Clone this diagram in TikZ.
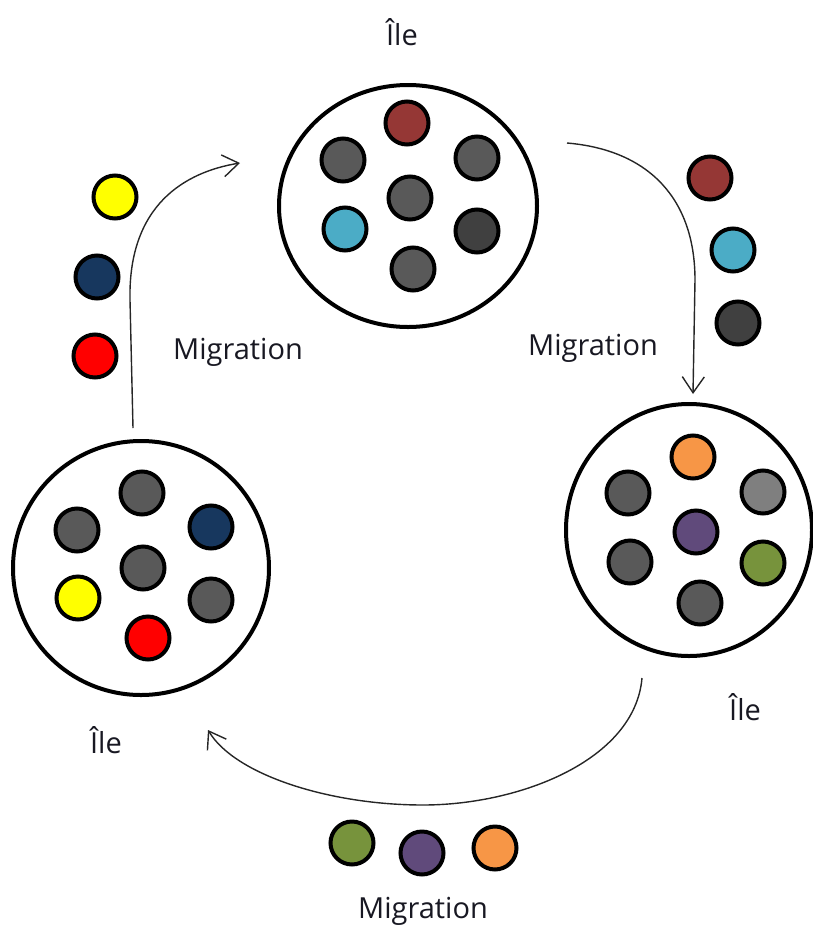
\documentclass[tikz,border=0pt]{standalone}
\usepackage{fontspec}
\setmainfont{Open Sans}
\usetikzlibrary{arrows.meta}
\definecolor{ink}{RGB}{24,24,34}
\definecolor{gmid}{HTML}{595959}
\definecolor{gdark}{HTML}{404040}
\definecolor{glight}{HTML}{7F7F7F}
\definecolor{cbrick}{HTML}{953735}
\definecolor{ccyan}{HTML}{4BACC6}
\definecolor{corange}{HTML}{F79646}
\definecolor{cpurple}{HTML}{604A7B}
\definecolor{cgreen}{HTML}{77933C}
\definecolor{cnavy}{HTML}{17375E}
\definecolor{cyellow}{HTML}{FFFF00}
\definecolor{cred}{HTML}{FF0000}
\tikzset{
  ball/.style={circle,draw=black,line width=4pt,minimum size=43pt,inner sep=0pt,fill=#1},
  flow/.style={draw=black!85,line width=1.4pt,-{Straight Barb[length=16pt,width=22pt,line width=1.4pt]}},
  lbl/.style={text=ink,font=\fontsize{29}{32}\selectfont,inner sep=0pt}
}
\begin{document}
\begin{tikzpicture}[x=1pt,y=-1pt]
\useasboundingbox (0,0) rectangle (813,927);
\clip (0,0) rectangle (813,927);

% islands
\draw[line width=4pt,fill=white] (408,206) ellipse [x radius=129,y radius=121];
\draw[line width=4pt,fill=white] (689,530) ellipse [x radius=123,y radius=126];
\draw[line width=4pt,fill=white] (141,568) ellipse [x radius=128,y radius=127];

% top island population
\node[ball=cbrick] (t1) at (407,123) {};
\node[ball=gmid]   (t2) at (343,160) {};
\node[ball=gmid]   (t3) at (477,158) {};
\node[ball=gmid]   (t4) at (410,198) {};
\node[ball=ccyan]  (t5) at (345,229) {};
\node[ball=gdark]  (t6) at (477,231) {};
\node[ball=gmid]   (t7) at (413,269) {};

% right island population
\node[ball=corange] (r1) at (693,457) {};
\node[ball=gmid]    (r2) at (628,493) {};
\node[ball=glight]  (r3) at (763,492) {};
\node[ball=cpurple] (r4) at (696,532) {};
\node[ball=gmid]    (r5) at (630,562) {};
\node[ball=cgreen]  (r6) at (763,563) {};
\node[ball=gmid]    (r7) at (700,603) {};

% left island population
\node[ball=gmid]    (l1) at (142,493) {};
\node[ball=gmid]    (l2) at (77,530) {};
\node[ball=cnavy]   (l3) at (211,527) {};
\node[ball=gmid]    (l4) at (143,568) {};
\node[ball=cyellow] (l5) at (78,598) {};
\node[ball=gmid]    (l6) at (211,600) {};
\node[ball=cred]    (l7) at (148,638) {};

% migrants
\node[ball=cyellow] (m1) at (115,197) {};
\node[ball=cnavy]   (m2) at (97,277) {};
\node[ball=cred]    (m3) at (95,356) {};
\node[ball=cbrick]  (m4) at (710,178) {};
\node[ball=ccyan]   (m5) at (733,250) {};
\node[ball=gdark]   (m6) at (738,323) {};
\node[ball=cgreen]  (m7) at (352,843) {};
\node[ball=cpurple] (m8) at (422,853) {};
\node[ball=corange] (m9) at (495,848) {};

% migration routes
\coordinate (a1) at (133,428);
\coordinate (a2) at (240,163);
\coordinate (b1) at (567,143);
\coordinate (b2) at (693,394);
\coordinate (c1) at (642,678);
\coordinate (c2) at (208,730);
\draw[flow] (a1) -- (130,300) .. controls (128,205) and (185,172) .. (a2);
\draw[flow] (b1) .. controls (650,150) and (695,200) .. (695,280) -- (b2);
\draw[flow] (c1) .. controls (635,760) and (520,805) .. (423,805)
                 .. controls (330,805) and (235,775) .. (c2);

% labels
\node[lbl] (ile1) at (402,32) {Île};
\node[lbl] (ile2) at (745,707) {Île};
\node[lbl] (ile3) at (106,740) {Île};
\node[lbl] (mig1) at (238,352) {Migration};
\node[lbl] (mig2) at (593,348) {Migration};
\node[lbl,anchor=south] (mig3) at (423,926) {Migration};
\end{tikzpicture}
\end{document}
